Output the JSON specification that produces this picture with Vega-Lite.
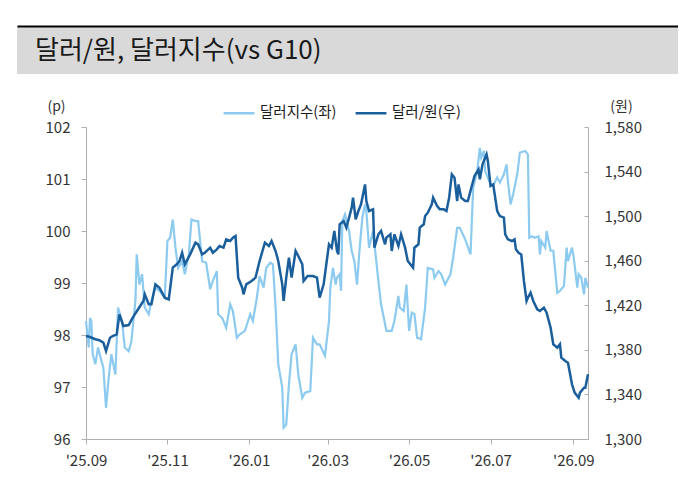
{
  "$schema": "https://vega.github.io/schema/vega-lite/v6.json",
  "background": "white",
  "padding": {"left": 17, "top": 26, "right": 0, "bottom": 0},
  "spacing": 22,
  "resolve": {"scale": {"color": "independent"}, "legend": {"color": "independent"}},
  "config": {
    "font": "Noto Sans CJK KR",
    "view": {"stroke": null},
    "axis": {
      "labelFont": "Noto Sans CJK KR",
      "titleFont": "Noto Sans CJK KR",
      "labelFontSize": 15,
      "labelColor": "#333333",
      "titleColor": "#333333",
      "domainColor": "#b0b0b0",
      "tickColor": "#b0b0b0",
      "grid": false
    },
    "legend": {"labelFont": "Noto Sans CJK KR"}
  },
  "datasets": {
    "dxy": [
      {"date": "2025/09/01", "value": 98.27},
      {"date": "2025/09/03", "value": 97.76},
      {"date": "2025/09/04", "value": 98.33},
      {"date": "2025/09/05", "value": 98.27},
      {"date": "2025/09/06", "value": 97.63},
      {"date": "2025/09/08", "value": 97.44},
      {"date": "2025/09/10", "value": 97.76},
      {"date": "2025/09/12", "value": 97.56},
      {"date": "2025/09/14", "value": 97.37},
      {"date": "2025/09/16", "value": 96.6},
      {"date": "2025/09/18", "value": 97.18},
      {"date": "2025/09/20", "value": 97.63},
      {"date": "2025/09/23", "value": 97.24},
      {"date": "2025/09/25", "value": 98.53},
      {"date": "2025/09/28", "value": 98.27},
      {"date": "2025/09/30", "value": 97.76},
      {"date": "2025/10/03", "value": 97.69},
      {"date": "2025/10/05", "value": 97.88},
      {"date": "2025/10/08", "value": 98.65},
      {"date": "2025/10/09", "value": 99.55},
      {"date": "2025/10/11", "value": 98.97},
      {"date": "2025/10/13", "value": 99.17},
      {"date": "2025/10/15", "value": 98.53},
      {"date": "2025/10/18", "value": 98.4},
      {"date": "2025/10/20", "value": 98.65},
      {"date": "2025/10/23", "value": 98.91},
      {"date": "2025/10/26", "value": 98.85},
      {"date": "2025/10/30", "value": 98.72},
      {"date": "2025/11/01", "value": 99.81},
      {"date": "2025/11/03", "value": 99.87},
      {"date": "2025/11/05", "value": 100.22},
      {"date": "2025/11/07", "value": 99.68},
      {"date": "2025/11/09", "value": 99.29},
      {"date": "2025/11/12", "value": 99.42},
      {"date": "2025/11/14", "value": 99.17},
      {"date": "2025/11/17", "value": 99.55},
      {"date": "2025/11/19", "value": 100.22},
      {"date": "2025/11/22", "value": 100.19},
      {"date": "2025/11/24", "value": 100.19},
      {"date": "2025/11/27", "value": 99.42},
      {"date": "2025/11/30", "value": 99.39},
      {"date": "2025/12/03", "value": 98.88},
      {"date": "2025/12/05", "value": 99.04},
      {"date": "2025/12/08", "value": 99.23},
      {"date": "2025/12/09", "value": 98.4},
      {"date": "2025/12/12", "value": 98.33},
      {"date": "2025/12/15", "value": 98.14},
      {"date": "2025/12/18", "value": 98.59},
      {"date": "2025/12/20", "value": 98.46},
      {"date": "2025/12/23", "value": 97.95},
      {"date": "2025/12/25", "value": 98.01},
      {"date": "2025/12/29", "value": 98.08},
      {"date": "2026/01/02", "value": 98.4},
      {"date": "2026/01/04", "value": 98.27},
      {"date": "2026/01/07", "value": 98.72},
      {"date": "2026/01/09", "value": 99.13},
      {"date": "2026/01/12", "value": 98.91},
      {"date": "2026/01/14", "value": 99.29},
      {"date": "2026/01/17", "value": 99.39},
      {"date": "2026/01/19", "value": 99.36},
      {"date": "2026/01/21", "value": 98.53},
      {"date": "2026/01/23", "value": 97.44},
      {"date": "2026/01/26", "value": 96.99},
      {"date": "2026/01/27", "value": 96.22},
      {"date": "2026/01/29", "value": 96.28},
      {"date": "2026/01/31", "value": 97.05},
      {"date": "2026/02/02", "value": 97.63},
      {"date": "2026/02/05", "value": 97.82},
      {"date": "2026/02/07", "value": 97.24},
      {"date": "2026/02/10", "value": 96.79},
      {"date": "2026/02/12", "value": 96.89},
      {"date": "2026/02/16", "value": 96.92},
      {"date": "2026/02/18", "value": 97.95},
      {"date": "2026/02/21", "value": 97.82},
      {"date": "2026/02/23", "value": 97.82},
      {"date": "2026/02/27", "value": 97.6},
      {"date": "2026/03/02", "value": 98.27},
      {"date": "2026/03/03", "value": 98.91},
      {"date": "2026/03/05", "value": 99.29},
      {"date": "2026/03/07", "value": 98.97},
      {"date": "2026/03/08", "value": 99.1},
      {"date": "2026/03/10", "value": 99.17},
      {"date": "2026/03/11", "value": 98.85},
      {"date": "2026/03/12", "value": 100.19},
      {"date": "2026/03/14", "value": 100.32},
      {"date": "2026/03/17", "value": 100.0},
      {"date": "2026/03/19", "value": 99.62},
      {"date": "2026/03/21", "value": 99.42},
      {"date": "2026/03/23", "value": 98.97},
      {"date": "2026/03/25", "value": 99.68},
      {"date": "2026/03/27", "value": 100.26},
      {"date": "2026/03/29", "value": 100.51},
      {"date": "2026/03/30", "value": 100.38},
      {"date": "2026/04/01", "value": 99.68},
      {"date": "2026/04/04", "value": 100.0},
      {"date": "2026/04/08", "value": 99.04},
      {"date": "2026/04/10", "value": 98.59},
      {"date": "2026/04/14", "value": 98.08},
      {"date": "2026/04/18", "value": 98.08},
      {"date": "2026/04/20", "value": 98.27},
      {"date": "2026/04/23", "value": 98.75},
      {"date": "2026/04/24", "value": 98.53},
      {"date": "2026/04/27", "value": 98.46},
      {"date": "2026/04/29", "value": 98.97},
      {"date": "2026/05/01", "value": 98.08},
      {"date": "2026/05/03", "value": 98.43},
      {"date": "2026/05/05", "value": 98.4},
      {"date": "2026/05/07", "value": 97.95},
      {"date": "2026/05/10", "value": 97.92},
      {"date": "2026/05/13", "value": 98.53},
      {"date": "2026/05/15", "value": 99.29},
      {"date": "2026/05/19", "value": 99.26},
      {"date": "2026/05/20", "value": 99.1},
      {"date": "2026/05/23", "value": 99.23},
      {"date": "2026/05/25", "value": 99.17},
      {"date": "2026/05/28", "value": 98.97},
      {"date": "2026/06/01", "value": 99.17},
      {"date": "2026/06/03", "value": 99.49},
      {"date": "2026/06/06", "value": 100.06},
      {"date": "2026/06/08", "value": 100.06},
      {"date": "2026/06/12", "value": 99.84},
      {"date": "2026/06/16", "value": 99.55},
      {"date": "2026/06/17", "value": 100.19},
      {"date": "2026/06/18", "value": 100.83},
      {"date": "2026/06/21", "value": 101.15},
      {"date": "2026/06/23", "value": 101.6},
      {"date": "2026/06/24", "value": 101.41},
      {"date": "2026/06/26", "value": 101.54},
      {"date": "2026/06/27", "value": 101.15},
      {"date": "2026/07/01", "value": 100.9},
      {"date": "2026/07/03", "value": 100.87},
      {"date": "2026/07/06", "value": 101.03},
      {"date": "2026/07/08", "value": 100.93},
      {"date": "2026/07/11", "value": 101.09},
      {"date": "2026/07/13", "value": 101.28},
      {"date": "2026/07/14", "value": 100.96},
      {"date": "2026/07/16", "value": 100.51},
      {"date": "2026/07/18", "value": 100.71},
      {"date": "2026/07/21", "value": 101.09},
      {"date": "2026/07/23", "value": 101.51},
      {"date": "2026/07/27", "value": 101.54},
      {"date": "2026/07/29", "value": 101.47},
      {"date": "2026/07/30", "value": 99.87},
      {"date": "2026/08/01", "value": 99.9},
      {"date": "2026/08/03", "value": 99.87},
      {"date": "2026/08/06", "value": 99.9},
      {"date": "2026/08/07", "value": 99.55},
      {"date": "2026/08/08", "value": 99.81},
      {"date": "2026/08/11", "value": 99.68},
      {"date": "2026/08/12", "value": 100.0},
      {"date": "2026/08/13", "value": 99.87},
      {"date": "2026/08/15", "value": 99.62},
      {"date": "2026/08/17", "value": 99.62},
      {"date": "2026/08/20", "value": 98.81},
      {"date": "2026/08/22", "value": 98.85},
      {"date": "2026/08/25", "value": 98.94},
      {"date": "2026/08/27", "value": 99.68},
      {"date": "2026/08/28", "value": 99.42},
      {"date": "2026/08/31", "value": 99.68},
      {"date": "2026/09/01", "value": 99.55},
      {"date": "2026/09/04", "value": 98.91},
      {"date": "2026/09/05", "value": 99.17},
      {"date": "2026/09/07", "value": 99.1},
      {"date": "2026/09/09", "value": 98.78},
      {"date": "2026/09/10", "value": 99.1},
      {"date": "2026/09/12", "value": 98.91}
    ],
    "krw": [
      {"date": "2025/09/01", "value": 1392.4},
      {"date": "2025/09/04", "value": 1391.5},
      {"date": "2025/09/08", "value": 1389.5},
      {"date": "2025/09/11", "value": 1388.6},
      {"date": "2025/09/14", "value": 1386.5},
      {"date": "2025/09/16", "value": 1379.0},
      {"date": "2025/09/19", "value": 1390.9},
      {"date": "2025/09/21", "value": 1392.4},
      {"date": "2025/09/24", "value": 1393.9},
      {"date": "2025/09/26", "value": 1411.9},
      {"date": "2025/09/29", "value": 1401.4},
      {"date": "2025/10/03", "value": 1402.3},
      {"date": "2025/10/06", "value": 1408.9},
      {"date": "2025/10/10", "value": 1416.4},
      {"date": "2025/10/14", "value": 1423.9},
      {"date": "2025/10/15", "value": 1429.8},
      {"date": "2025/10/18", "value": 1420.9},
      {"date": "2025/10/20", "value": 1420.9},
      {"date": "2025/10/23", "value": 1438.8},
      {"date": "2025/10/26", "value": 1435.8},
      {"date": "2025/10/30", "value": 1426.8},
      {"date": "2025/11/02", "value": 1425.3},
      {"date": "2025/11/05", "value": 1453.8},
      {"date": "2025/11/08", "value": 1456.8},
      {"date": "2025/11/10", "value": 1459.7},
      {"date": "2025/11/12", "value": 1467.2},
      {"date": "2025/11/14", "value": 1456.8},
      {"date": "2025/11/18", "value": 1465.7},
      {"date": "2025/11/22", "value": 1476.2},
      {"date": "2025/11/24", "value": 1474.7},
      {"date": "2025/11/27", "value": 1465.7},
      {"date": "2025/11/29", "value": 1467.2},
      {"date": "2025/12/03", "value": 1471.7},
      {"date": "2025/12/05", "value": 1467.2},
      {"date": "2025/12/08", "value": 1470.2},
      {"date": "2025/12/10", "value": 1473.2},
      {"date": "2025/12/13", "value": 1471.7},
      {"date": "2025/12/15", "value": 1479.2},
      {"date": "2025/12/18", "value": 1477.7},
      {"date": "2025/12/20", "value": 1480.7},
      {"date": "2025/12/22", "value": 1482.2},
      {"date": "2025/12/24", "value": 1444.8},
      {"date": "2025/12/27", "value": 1435.8},
      {"date": "2025/12/28", "value": 1429.8},
      {"date": "2025/12/30", "value": 1438.8},
      {"date": "2026/01/03", "value": 1441.8},
      {"date": "2026/01/06", "value": 1444.8},
      {"date": "2026/01/09", "value": 1459.7},
      {"date": "2026/01/13", "value": 1476.2},
      {"date": "2026/01/16", "value": 1473.2},
      {"date": "2026/01/18", "value": 1477.7},
      {"date": "2026/01/21", "value": 1468.7},
      {"date": "2026/01/23", "value": 1459.7},
      {"date": "2026/01/26", "value": 1438.8},
      {"date": "2026/01/27", "value": 1423.9},
      {"date": "2026/01/29", "value": 1444.8},
      {"date": "2026/01/31", "value": 1462.7},
      {"date": "2026/02/02", "value": 1444.8},
      {"date": "2026/02/05", "value": 1468.7},
      {"date": "2026/02/07", "value": 1464.2},
      {"date": "2026/02/10", "value": 1456.8},
      {"date": "2026/02/11", "value": 1441.8},
      {"date": "2026/02/14", "value": 1446.3},
      {"date": "2026/02/18", "value": 1446.3},
      {"date": "2026/02/21", "value": 1444.8},
      {"date": "2026/02/23", "value": 1426.8},
      {"date": "2026/02/26", "value": 1438.8},
      {"date": "2026/02/28", "value": 1456.8},
      {"date": "2026/03/02", "value": 1474.7},
      {"date": "2026/03/04", "value": 1471.7},
      {"date": "2026/03/06", "value": 1486.7},
      {"date": "2026/03/08", "value": 1468.7},
      {"date": "2026/03/09", "value": 1465.7},
      {"date": "2026/03/10", "value": 1492.7},
      {"date": "2026/03/13", "value": 1495.6},
      {"date": "2026/03/15", "value": 1489.7},
      {"date": "2026/03/17", "value": 1498.6},
      {"date": "2026/03/19", "value": 1507.6},
      {"date": "2026/03/20", "value": 1516.6},
      {"date": "2026/03/22", "value": 1497.1},
      {"date": "2026/03/24", "value": 1504.6},
      {"date": "2026/03/26", "value": 1510.6},
      {"date": "2026/03/29", "value": 1528.5},
      {"date": "2026/03/30", "value": 1513.6},
      {"date": "2026/04/01", "value": 1504.6},
      {"date": "2026/04/04", "value": 1506.1},
      {"date": "2026/04/05", "value": 1471.7},
      {"date": "2026/04/08", "value": 1483.7},
      {"date": "2026/04/10", "value": 1486.7},
      {"date": "2026/04/13", "value": 1474.7},
      {"date": "2026/04/14", "value": 1480.7},
      {"date": "2026/04/17", "value": 1483.7},
      {"date": "2026/04/18", "value": 1468.7},
      {"date": "2026/04/20", "value": 1483.7},
      {"date": "2026/04/23", "value": 1473.2},
      {"date": "2026/04/25", "value": 1483.7},
      {"date": "2026/04/28", "value": 1471.7},
      {"date": "2026/04/30", "value": 1459.7},
      {"date": "2026/05/04", "value": 1453.8},
      {"date": "2026/05/05", "value": 1471.7},
      {"date": "2026/05/08", "value": 1474.7},
      {"date": "2026/05/09", "value": 1489.7},
      {"date": "2026/05/12", "value": 1492.7},
      {"date": "2026/05/13", "value": 1500.1},
      {"date": "2026/05/15", "value": 1503.1},
      {"date": "2026/05/18", "value": 1510.6},
      {"date": "2026/05/19", "value": 1516.6},
      {"date": "2026/05/22", "value": 1509.1},
      {"date": "2026/05/24", "value": 1506.1},
      {"date": "2026/05/27", "value": 1506.1},
      {"date": "2026/05/29", "value": 1504.6},
      {"date": "2026/05/31", "value": 1516.6},
      {"date": "2026/06/02", "value": 1537.5},
      {"date": "2026/06/04", "value": 1534.5},
      {"date": "2026/06/06", "value": 1513.6},
      {"date": "2026/06/07", "value": 1528.5},
      {"date": "2026/06/09", "value": 1516.6},
      {"date": "2026/06/12", "value": 1513.6},
      {"date": "2026/06/14", "value": 1513.6},
      {"date": "2026/06/17", "value": 1527.1},
      {"date": "2026/06/19", "value": 1536.0},
      {"date": "2026/06/22", "value": 1542.0},
      {"date": "2026/06/23", "value": 1533.0},
      {"date": "2026/06/25", "value": 1546.5},
      {"date": "2026/06/28", "value": 1555.5},
      {"date": "2026/06/29", "value": 1549.5},
      {"date": "2026/07/01", "value": 1527.1},
      {"date": "2026/07/03", "value": 1528.5},
      {"date": "2026/07/06", "value": 1504.6},
      {"date": "2026/07/08", "value": 1500.1},
      {"date": "2026/07/11", "value": 1498.6},
      {"date": "2026/07/12", "value": 1483.7},
      {"date": "2026/07/14", "value": 1479.2},
      {"date": "2026/07/17", "value": 1477.7},
      {"date": "2026/07/19", "value": 1479.2},
      {"date": "2026/07/20", "value": 1470.2},
      {"date": "2026/07/22", "value": 1467.2},
      {"date": "2026/07/24", "value": 1465.7},
      {"date": "2026/07/26", "value": 1441.8},
      {"date": "2026/07/28", "value": 1423.9},
      {"date": "2026/07/29", "value": 1426.8},
      {"date": "2026/07/31", "value": 1431.3},
      {"date": "2026/08/02", "value": 1423.9},
      {"date": "2026/08/05", "value": 1416.4},
      {"date": "2026/08/07", "value": 1414.9},
      {"date": "2026/08/10", "value": 1417.9},
      {"date": "2026/08/12", "value": 1413.4},
      {"date": "2026/08/15", "value": 1399.9},
      {"date": "2026/08/17", "value": 1385.0},
      {"date": "2026/08/20", "value": 1382.0},
      {"date": "2026/08/22", "value": 1385.0},
      {"date": "2026/08/23", "value": 1373.0},
      {"date": "2026/08/26", "value": 1370.0},
      {"date": "2026/08/28", "value": 1368.5},
      {"date": "2026/08/31", "value": 1349.1},
      {"date": "2026/09/02", "value": 1341.6},
      {"date": "2026/09/05", "value": 1337.1},
      {"date": "2026/09/06", "value": 1341.6},
      {"date": "2026/09/09", "value": 1346.1},
      {"date": "2026/09/10", "value": 1346.1},
      {"date": "2026/09/12", "value": 1358.0}
    ]
  },
  "vconcat": [
    {
      "width": 661,
      "height": 48,
      "view": {"fill": "#d9d9d9", "stroke": null},
      "data": {"values": [{"label": "달러/원, 달러지수(vs G10)"}]},
      "mark": {
        "type": "text",
        "align": "left",
        "baseline": "middle",
        "dx": 18,
        "dy": 1,
        "fontSize": 26,
        "color": "#1a1a1a",
        "font": "Noto Sans CJK KR"
      },
      "encoding": {
        "x": {
          "datum": 0,
          "type": "quantitative",
          "scale": {"domain": [0, 1]},
          "axis": {
            "orient": "top",
            "domainColor": "#000000",
            "domainWidth": 2,
            "ticks": false,
            "labels": false,
            "title": null
          }
        },
        "text": {"field": "label"}
      }
    },
    {
      "spacing": 0,
      "resolve": {"scale": {"color": "independent"}, "legend": {"color": "independent"}},
      "hconcat": [
        {
          "width": 28,
          "height": 1,
          "data": {"values": []},
          "mark": "point"
        },
        {
          "width": 502,
          "height": 312,
          "encoding": {
            "x": {
              "field": "date",
              "type": "temporal",
              "scale": {
                "domain": [
                  {"year": 2025, "month": 9, "date": 1},
                  {"year": 2026, "month": 9, "date": 12}
                ]
              },
              "axis": {
                "title": null,
                "format": "'%y.%m",
                "tickCount": {"interval": "month", "step": 2},
                "tickSize": 5,
                "labelPadding": 9,
                "labelFlush": false,
                "labelOverlap": false
              }
            }
          },
          "layer": [
            {
              "data": {"name": "dxy"},
              "mark": {"type": "line", "strokeWidth": 2.2},
              "encoding": {
                "y": {
                  "field": "value",
                  "type": "quantitative",
                  "scale": {"domain": [96, 102], "zero": false},
                  "axis": {
                    "orient": "left",
                    "values": [96, 97, 98, 99, 100, 101, 102],
                    "tickSize": 5,
                    "labelPadding": 11,
                    "title": "(p)",
                    "titleAngle": 0,
                    "titleAlign": "center",
                    "titleBaseline": "middle",
                    "titleX": -30,
                    "titleY": -21,
                    "titleFontSize": 14,
                    "titleFontWeight": "normal"
                  }
                },
                "color": {
                  "datum": "달러지수(좌)",
                  "scale": {
                    "domain": ["달러지수(좌)", "달러/원(우)"],
                    "range": ["#8ccbef", "#1a5f9c"]
                  },
                  "legend": {
                    "orient": "none",
                    "legendX": 136,
                    "legendY": -31,
                    "direction": "horizontal",
                    "title": null,
                    "symbolType": "stroke",
                    "symbolSize": 950,
                    "symbolStrokeWidth": 2.5,
                    "labelFontSize": 14.5,
                    "labelColor": "#1a1a1a",
                    "labelOffset": 4,
                    "columnPadding": 13
                  }
                }
              }
            },
            {
              "data": {"name": "krw"},
              "mark": {"type": "line", "strokeWidth": 2.5},
              "encoding": {
                "y": {
                  "field": "value",
                  "type": "quantitative",
                  "scale": {"domain": [1300, 1580], "zero": false},
                  "axis": {
                    "orient": "right",
                    "values": [1300, 1340, 1380, 1420, 1460, 1500, 1540, 1580],
                    "format": ",.0f",
                    "tickSize": -4,
                    "labelPadding": 20,
                    "title": "(원)",
                    "titleAngle": 0,
                    "titleAlign": "center",
                    "titleBaseline": "middle",
                    "titleX": 33,
                    "titleY": -21,
                    "titleFontSize": 14,
                    "titleFontWeight": "normal"
                  }
                },
                "color": {"datum": "달러/원(우)"}
              }
            }
          ],
          "resolve": {"scale": {"y": "independent"}}
        }
      ]
    }
  ]
}
